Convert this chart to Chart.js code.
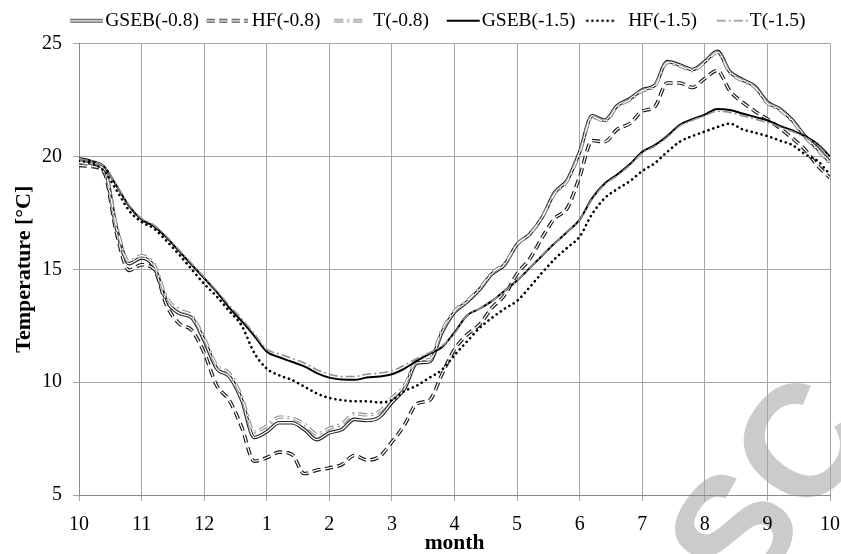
<!DOCTYPE html>
<html>
<head>
<meta charset="utf-8">
<script src="https://cdn.jsdelivr.net/npm/chart.js@4"></script>
<style>
  html, body { margin: 0; padding: 0; background: #fff; }
</style>
</head>
<body>
<canvas id="tempChart" width="841" height="554"></canvas>
<script>
// tick labels on the month axis (Oct .. Oct)
const monthLabels = ['10', '11', '12', '1', '2', '3', '4', '5', '6', '7', '8', '9', '10'];

// position along the axis, in months from the first October
const months = [0, 0.2, 0.4, 0.6, 0.8, 1, 1.2, 1.4, 1.6, 1.8, 2, 2.2, 2.4, 2.6, 2.8, 3, 3.2, 3.4, 3.6, 3.8,
  4, 4.2, 4.4, 4.6, 4.8, 5, 5.2, 5.4, 5.6, 5.8, 6, 6.2, 6.4, 6.6, 6.8, 7, 7.2, 7.4, 7.6, 7.8,
  8, 8.2, 8.4, 8.6, 8.8, 9, 9.2, 9.4, 9.6, 9.8, 10, 10.2, 10.4, 10.6, 10.8, 11, 11.2, 11.4, 11.6, 11.8, 12];

// temperatures [°C]
const gseb08 = [19.8, 19.7, 19.5, 16.8, 15.25, 15.5, 15.1, 13.6, 13.05, 12.85, 11.85, 10.6, 10.25, 9.2, 7.55, 7.8, 8.2, 8.2, 7.9, 7.45,
  7.75, 7.9, 8.35, 8.3, 8.45, 9.1, 9.7, 10.85, 10.9, 12.2, 13.1, 13.55, 14.1, 14.8, 15.2, 16.1, 16.55, 17.3, 18.4, 18.95,
  20.2, 21.8, 21.6, 22.25, 22.55, 22.95, 23.15, 24.2, 24.05, 23.85, 24.2, 24.65, 23.75, 23.4, 23.1, 22.4, 22.1, 21.6, 20.9, 20.35, 19.75];
const hf08 = [19.6, 19.55, 19.3, 16.6, 14.95, 15.2, 15.0, 13.4, 12.6, 12.3, 11.3, 9.85, 9.2, 8.0, 6.5, 6.65, 6.9, 6.8, 5.95, 6.1,
  6.2, 6.35, 6.75, 6.55, 6.7, 7.35, 8.1, 9.05, 9.2, 10.35, 11.45, 12.1, 12.55, 13.3, 13.85, 14.8, 15.45, 16.4, 17.25, 17.7,
  19.1, 20.7, 20.65, 21.2, 21.45, 22.0, 22.2, 23.25, 23.25, 23.05, 23.45, 23.8, 22.9, 22.4, 22.0, 21.65, 21.25, 20.8, 20.3, 19.6, 19.05];
const t08 = [19.75, 19.65, 19.45, 16.9, 15.35, 15.6, 15.2, 13.75, 13.2, 12.95, 11.95, 10.75, 10.4, 9.35, 7.8, 8.05, 8.45, 8.4, 8.15, 7.7,
  7.95, 8.15, 8.6, 8.55, 8.7, 9.3, 9.85, 10.95, 11.0, 12.3, 13.15, 13.6, 14.15, 14.85, 15.25, 16.1, 16.55, 17.3, 18.35, 18.9,
  20.15, 21.75, 21.55, 22.2, 22.5, 22.9, 23.1, 24.15, 24.0, 23.8, 24.15, 24.6, 23.7, 23.35, 23.05, 22.35, 22.05, 21.55, 20.85, 20.3, 19.7];
const gseb15 = [19.93, 19.8, 19.55, 18.7, 17.8, 17.2, 16.9, 16.4, 15.8, 15.2, 14.6, 14.0, 13.3, 12.7, 12.05, 11.35, 11.1, 10.9, 10.7, 10.4,
  10.2, 10.12, 10.1, 10.2, 10.25, 10.35, 10.6, 10.95, 11.25, 11.55, 12.2, 12.95, 13.25, 13.6, 14.05, 14.5, 15.05, 15.6, 16.15, 16.65,
  17.2, 18.15, 18.8, 19.2, 19.65, 20.2, 20.5, 20.9, 21.4, 21.65, 21.85, 22.1, 22.05, 21.9, 21.75, 21.6, 21.35, 21.15, 20.9, 20.55, 20.0];
const hf15 = [19.8, 19.7, 19.35, 18.5, 17.6, 17.1, 16.8, 16.25, 15.65, 15.0, 14.35, 13.8, 13.15, 12.5, 11.3, 10.6, 10.3, 10.1, 9.8, 9.5,
  9.3, 9.2, 9.15, 9.15, 9.1, 9.2, 9.6, 9.85, 10.2, 10.55, 11.2, 11.8, 12.4, 12.85, 13.25, 13.6, 14.2, 14.85, 15.45, 15.95,
  16.45, 17.45, 18.15, 18.55, 18.9, 19.35, 19.7, 20.2, 20.65, 20.9, 21.1, 21.3, 21.45, 21.2, 21.05, 20.9, 20.7, 20.5, 20.1, 19.8, 19.2];
const t15 = [19.9, 19.78, 19.55, 18.72, 17.85, 17.25, 16.95, 16.45, 15.85, 15.25, 14.65, 14.05, 13.4, 12.8, 12.15, 11.45, 11.25, 11.05, 10.85, 10.55,
  10.35, 10.25, 10.25, 10.35, 10.4, 10.5, 10.75, 11.05, 11.3, 11.6, 12.15, 12.95, 13.25, 13.6, 14.05, 14.5, 15.05, 15.6, 16.15, 16.65,
  17.2, 18.1, 18.75, 19.15, 19.6, 20.15, 20.45, 20.85, 21.35, 21.6, 21.8, 22.0, 21.95, 21.8, 21.65, 21.5, 21.3, 21.1, 20.85, 20.5, 19.95];

const serif = '"Liberation Serif", "Times New Roman", serif';

// line styles; "inner" = white core, gives the double (compound) line
const series = [
  { label: 'GSEB(-0.8)', values: gseb08, color: '#262626', width: 3.6, inner: 1.3, dash: [], span: [-35, -2] },
  { label: 'HF(-0.8)', values: hf08, color: '#1a1a1a', width: 3.6, inner: 1.3, dash: [8, 4.5], span: [-45, -4] },
  { label: 'T(-0.8)', values: t08, color: '#8f8f8f', width: 3.4, inner: 1.2, dash: [9, 4, 2, 4], span: [-39, -9] },
  { label: 'GSEB(-1.5)', values: gseb15, color: '#000000', width: 2, dash: [], span: [-35, -2] },
  { label: 'HF(-1.5)', values: hf15, color: '#000000', width: 2.6, dash: [0.1, 5], cap: 'round', span: [-41, -12] },
  { label: 'T(-1.5)', values: t15, color: '#8f8f8f', width: 1.6, dash: [9, 3, 2, 3], span: [-33, -1] }
];

// legend line samples drawn on tiny canvases
function makeSample(s) {
  const c = document.createElement('canvas');
  c.width = 55;
  c.height = 12;
  const g = c.getContext('2d');
  g.lineCap = s.cap || 'butt';
  g.setLineDash(s.dash);
  g.beginPath();
  g.moveTo(56.75 + s.span[0], 6);
  g.lineTo(56.75 + s.span[1], 6);
  g.strokeStyle = s.color;
  g.lineWidth = s.width;
  g.stroke();
  if (s.inner) {
    g.strokeStyle = '#ffffff';
    g.lineWidth = s.inner;
    g.stroke();
  }
  return c;
}
const samples = series.map(makeSample);

const datasets = [];
let order = 20;
series.forEach((s, i) => {
  const pts = months.map((m, k) => ({ x: m, y: s.values[k] }));
  const base = {
    data: pts,
    pointRadius: 0,
    fill: false,
    cubicInterpolationMode: 'monotone',
    borderDash: s.dash,
    borderCapStyle: s.cap || 'butt',
    borderJoinStyle: 'round'
  };
  datasets.push(Object.assign({}, base, { label: s.label, borderColor: s.color, borderWidth: s.width, order: order-- }));
  if (s.inner) {
    datasets.push(Object.assign({}, base, { label: '_core' + i, borderColor: '#ffffff', borderWidth: s.inner, order: order-- }));
  }
});

// leave room between legend and plot
const legendGap = {
  id: 'legendGap',
  beforeInit(chart) {
    const fit = chart.legend.fit;
    chart.legend.fit = function () {
      fit.call(this);
      this.height += 3;
    };
  }
};

// grey "SC" stamp of the source image, behind everything
const stamp = {
  id: 'stamp',
  beforeDraw(chart) {
    const g = chart.ctx;
    g.save();
    g.translate(777, 492);
    g.rotate(-53 * Math.PI / 180);
    g.fillStyle = '#cbcbcb';
    g.font = 'bold 160px "Liberation Sans", Arial, sans-serif';
    g.textAlign = 'center';
    g.textBaseline = 'middle';
    g.fillText('SC', 0, 0);
    g.restore();
  }
};

const ctx = document.getElementById('tempChart').getContext('2d');
const tempChart = new Chart(ctx, {
  type: 'line',
  data: { datasets: datasets },
  plugins: [legendGap, stamp],
  options: {
    responsive: false,
    animation: false,
    layout: { padding: { top: 7, left: 21, right: 0, bottom: 0 } },
    plugins: {
      tooltip: { enabled: false },
      legend: {
        position: 'top',
        align: 'center',
        labels: {
          usePointStyle: true,
          pointStyleWidth: 39,
          padding: 4,
          color: '#000',
          font: { family: serif, size: 19.5 },
          generateLabels: () => series.map((s, i) => ({
            text: s.label,
            pointStyle: samples[i],
            fillStyle: 'rgba(0,0,0,0)',
            strokeStyle: 'rgba(0,0,0,0)',
            lineWidth: 0,
            fontColor: '#000',
            hidden: false
          }))
        }
      }
    },
    scales: {
      x: {
        type: 'linear',
        min: 0,
        max: 12,
        afterFit: s => { s.height = 59; },
        ticks: {
          stepSize: 1,
          autoSkip: false,
          maxRotation: 0,
          padding: 1,
          color: '#000',
          font: { family: serif, size: 20, lineHeight: 2.3 },
          callback: v => monthLabels[v]
        },
        grid: { color: '#a6a6a6', lineWidth: 1, tickLength: 6 },
        border: { color: '#8a8a8a' },
        title: {
          display: true,
          text: 'month',
          color: '#000',
          padding: 0,
          font: { family: serif, size: 21.5, weight: 'bold', lineHeight: 1 }
        }
      },
      y: {
        min: 5,
        max: 25,
        afterFit: s => { s.width = 58; },
        ticks: {
          stepSize: 5,
          padding: 11,
          color: '#000',
          font: { family: serif, size: 20 }
        },
        grid: { color: '#a6a6a6', lineWidth: 1, tickLength: 6 },
        border: { color: '#8a8a8a' },
        title: {
          display: true,
          text: 'Temperature [°C]',
          color: '#000',
          padding: { top: -10, bottom: 0 },
          font: { family: serif, size: 22, weight: 'bold', lineHeight: 1.2 }
        }
      }
    }
  }
});
</script>
</body>
</html>
